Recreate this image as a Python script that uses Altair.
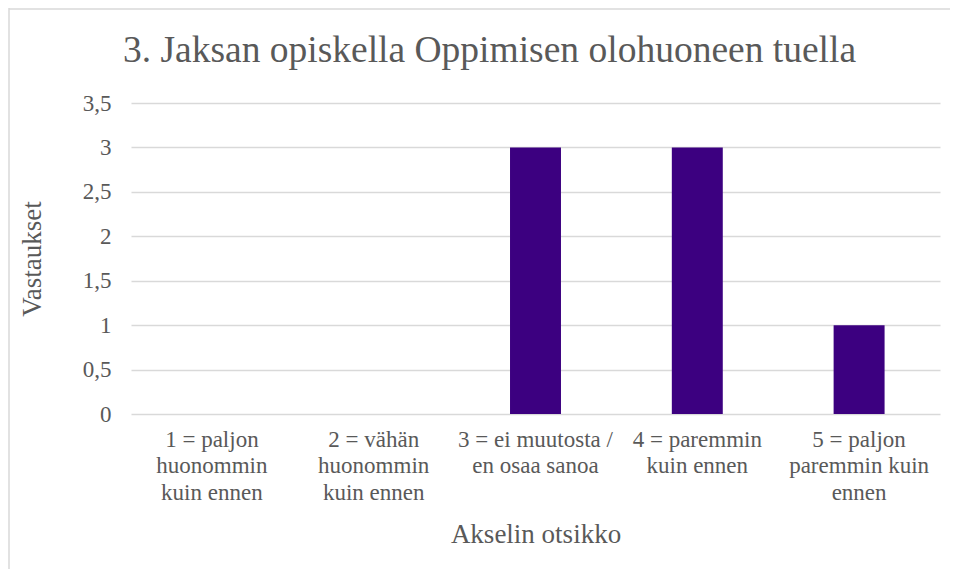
import altair as alt
import pandas as pd

title_text = "3. Jaksan opiskella Oppimisen olohuoneen tuella"
categories = [
    "1 = paljon\nhuonommin\nkuin ennen",
    "2 = vähän\nhuonommin\nkuin ennen",
    "3 = ei muutosta /\nen osaa sanoa",
    "4 = paremmin\nkuin ennen",
    "5 = paljon\nparemmin kuin\nennen",
]
values = [0, 0, 3, 3, 1]
y_ticks = [0, 0.5, 1, 1.5, 2, 2.5, 3, 3.5]
x_title = "Akselin otsikko"
y_title = "Vastaukset"

df = pd.DataFrame({"cat": categories, "val": values})

FONT = "'Liberation Serif', 'Times New Roman', 'DejaVu Serif', serif"
GRAY = "#595959"
W, H = 809, 311

bars = alt.Chart(df).mark_bar(color="#3C0080").encode(
    x=alt.X(
        "cat:N",
        sort=categories,
        scale=alt.Scale(paddingInner=0.685, paddingOuter=0.3425),
        axis=alt.Axis(
            title=x_title,
            labelExpr="split(datum.label, '\\n')",
            labelAngle=0,
            labelLimit=0,
            labelFont=FONT,
            labelFontSize=23,
            labelColor=GRAY,
            labelLineHeight=26.7,
            labelPadding=14,
            labelBaseline="top",
            domain=False,
            ticks=False,
            titleFont=FONT,
            titleFontSize=27,
            titleFontWeight="normal",
            titleColor=GRAY,
            titleX=W / 2,
            titleY=120,
            titleBaseline="middle",
            titleAlign="center",
        ),
    ),
    y=alt.Y(
        "val:Q",
        scale=alt.Scale(domain=[0, 3.5], nice=False),
        axis=alt.Axis(
            title=y_title,
            values=y_ticks,
            labelExpr="replace(toString(datum.value), '.', ',')",
            labelFont=FONT,
            labelFontSize=23,
            labelColor=GRAY,
            labelPadding=20,
            domain=False,
            ticks=False,
            grid=True,
            gridColor="#d9d9d9",
            gridWidth=1.3,
            titleFont=FONT,
            titleFontSize=27,
            titleFontWeight="normal",
            titleColor=GRAY,
            titleAngle=-90,
            titleX=-99,
            titleY=H / 2,
            titleBaseline="middle",
            titleAlign="center",
        ),
    ),
)

one_row = pd.DataFrame({"t": [title_text]})
left_border = alt.Chart(one_row).mark_rule(color="#d9d9d9", strokeWidth=1.5, clip=False).encode(
    x=alt.value(-122), y=alt.value(-95), y2=alt.value(H + 160)
)
top_border = alt.Chart(one_row).mark_rule(color="#d9d9d9", strokeWidth=1.5, clip=False).encode(
    x=alt.value(-122), x2=alt.value(W + 20), y=alt.value(-94)
)
title_mark = alt.Chart(one_row).mark_text(
    font=FONT,
    fontSize=37.5,
    color=GRAY,
    align="center",
    baseline="alphabetic",
    clip=False,
).encode(
    text="t:N",
    x=alt.value(W / 2 - 46),
    y=alt.value(-41),
)

chart = alt.layer(bars, left_border, top_border, title_mark).properties(
    width=W,
    height=H,
    autosize=alt.AutoSizeParams(type="none"),
    padding={"left": 123, "top": 95, "right": 10, "bottom": 155},
).configure_view(stroke=None)

chart.save("out.html", embed_options={"renderer": "svg", "actions": False})
